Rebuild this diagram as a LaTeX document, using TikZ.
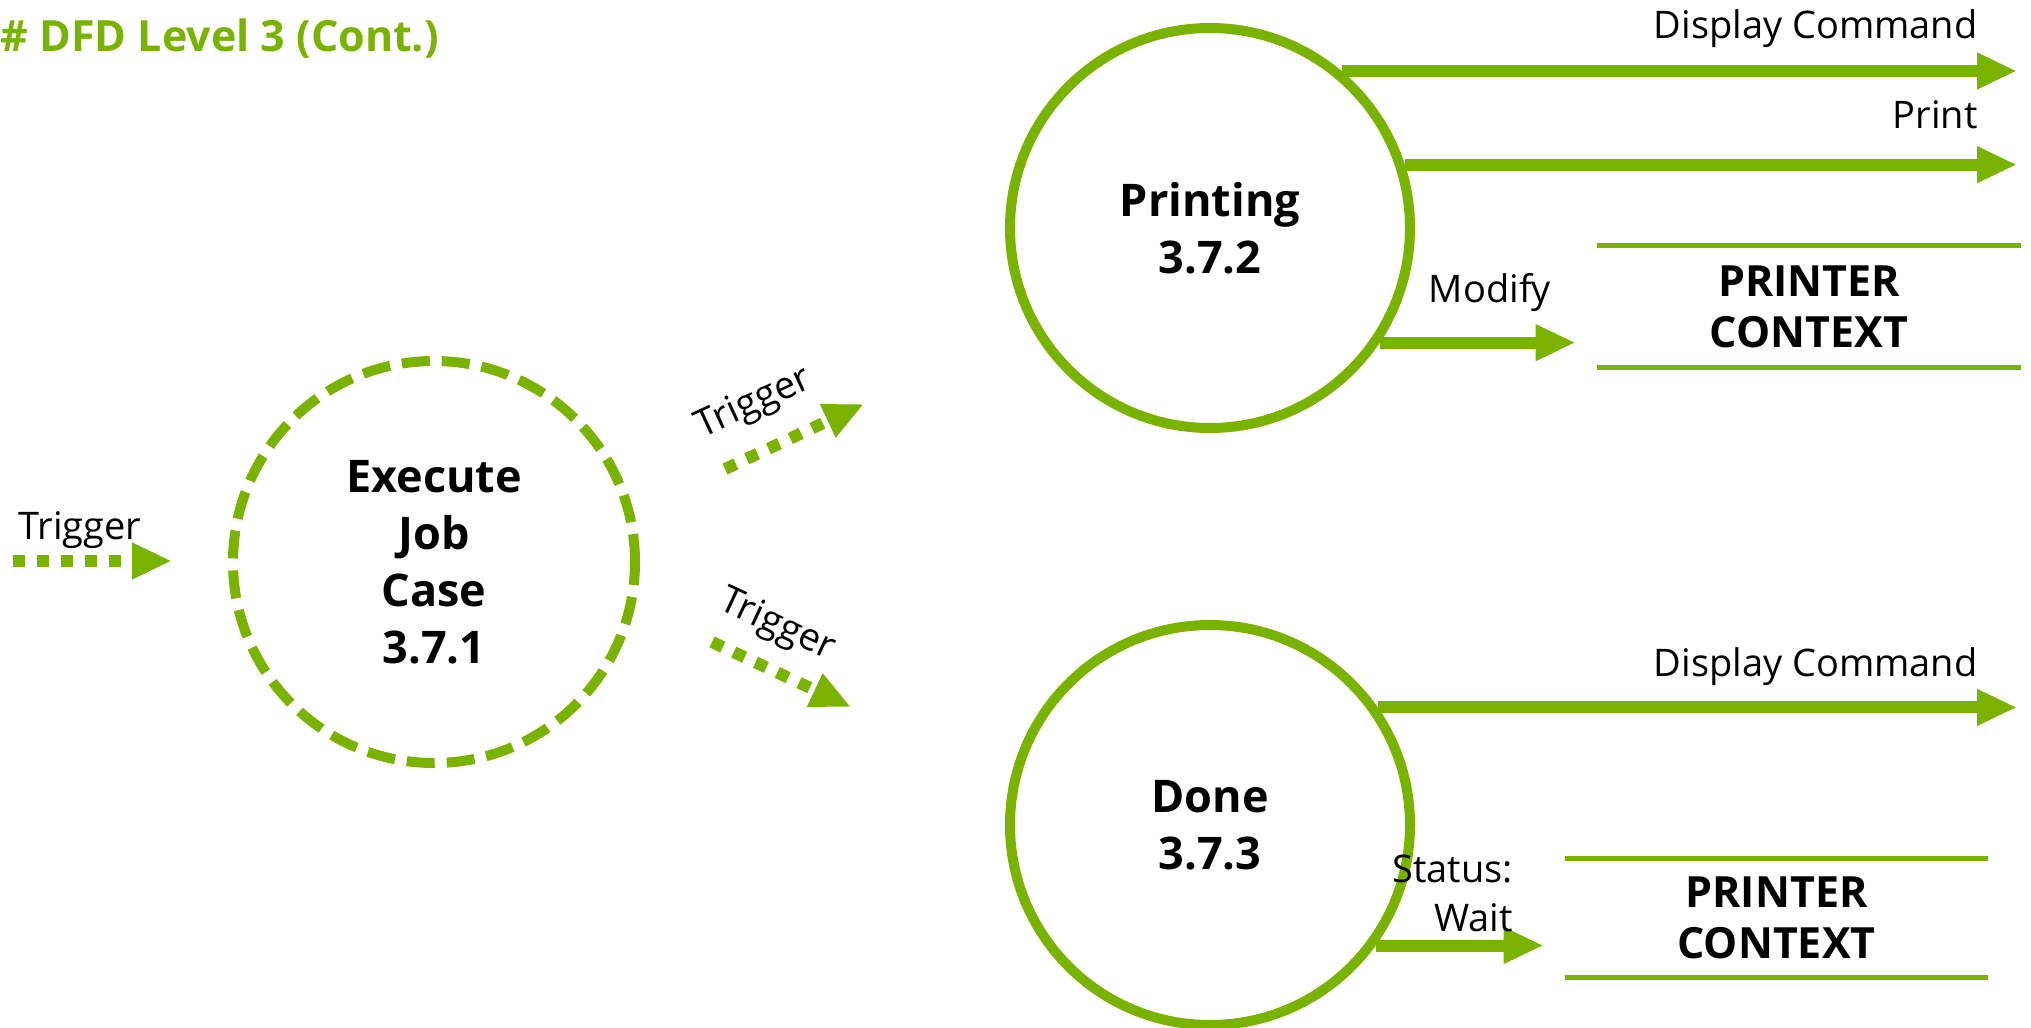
\documentclass[tikz,border=0pt]{standalone}
\usepackage{fontspec}
\setmainfont{Open Sans}
\usepackage{tikz}
\usetikzlibrary{positioning, arrows.meta}
\definecolor{dfdGreen}{RGB}{122, 178, 0}

\begin{document}
\begin{tikzpicture}[
        x=0.5pt, y=-0.5pt,
        font=\fontsize{19}{23}\selectfont,
        process/.style={
            circle, draw=dfdGreen, line width=5pt,
            minimum size=200pt, inner sep=0pt, align=center,
            font=\fontsize{22.5}{28.5}\selectfont\bfseries
        },
        procdash/.style={
            process, dash pattern=on 14pt off 6pt, minimum size=201pt
        },
        store/.style={
            rectangle, minimum width=212pt, minimum height=60pt,
            inner sep=0pt, align=center,
            font=\fontsize{21.5}{25.5}\selectfont\bfseries
        },
        storeline/.style={draw=dfdGreen, line width=2.5pt},
        flow/.style={draw=dfdGreen, line width=6pt, -{Triangle[length=20pt, width=17pt]}},
        trigger/.style={flow, dash pattern=on 6pt off 6pt},
        lbl/.style={inner sep=0pt, text=black}
    ]

    \useasboundingbox (0, 0) rectangle (2031, 1028);

    % TITLE
    \node[anchor=west, inner sep=0pt, text=dfdGreen, font=\fontsize{21.5}{26}\selectfont\bfseries] (title) at (0, 39) {\# DFD Level 3 (Cont.)};

    % PROCESSES
    \node[procdash] (p1) at (434, 562) {Execute\\Job\\Case\\3.7.1};
    \node[process] (p2) at (1210, 228) {Printing\\3.7.2};
    \node[process] (p3) at (1210, 825) {Done\\3.7.3};

    % DATA STORES
    \node[store, minimum height=60.5pt] (s1) at (1809, 306.5) {PRINTER\\CONTEXT};
    \node[store, minimum width=211.5pt, minimum height=59pt] (s2) at (1776.5, 918) {PRINTER\\CONTEXT};

    \draw[storeline] (s1.north west) -- (s1.north east);
    \draw[storeline] (s1.south west) -- (s1.south east);
    \draw[storeline] (s2.north west) -- (s2.north east);
    \draw[storeline] (s2.south west) -- (s2.south east);

    % FREE ENDS
    \coordinate (rim) at (2017, 0);
    \coordinate (in0) at (13, 561);
    \coordinate (in1) at (172, 561);
    \coordinate (up0) at (725, 469);
    \coordinate (up1) at (864, 404);
    \coordinate (dn0) at (712, 642);
    \coordinate (dn1) at (851, 707);

    % TRIGGERS
    \draw[trigger] (in0) -- (in1);
    \draw[trigger] (up0) -- (up1);
    \draw[trigger] (dn0) -- (dn1);

    \node[lbl, anchor=base] (t0) at (80, 539) {Trigger};
    \node[lbl, rotate=25] (t1) at (754, 404) {Trigger};
    \node[lbl, rotate=-25] (t2) at (777, 626) {Trigger};

    % FLOWS OUT OF PRINTING
    \draw[flow] (p2.50) -- (p2.50 -| rim);
    \draw[flow] (p2.18.6) -- (p2.18.6 -| rim);
    \draw[flow, shorten >=10.5pt] (p2.-34) -- (p2.-34 -| s1.west);

    % FLOWS OUT OF DONE
    \draw[flow] (p3.35.3) -- (p3.35.3 -| rim);
    \draw[flow, shorten >=10.5pt] (p3.-36.4) -- (p3.-36.4 -| s2.west);

    % FLOW LABELS
    \node[lbl, anchor=base east] (l1) at (1978, 39) {Display Command};
    \node[lbl, anchor=base east] (l2) at (1978, 128) {Print};
    \node[lbl, anchor=base] (l3) at (1490, 302) {Modify};
    \node[lbl, anchor=base east] (l4) at (1978, 676) {Display Command};
    \node[lbl, anchor=east, align=right, font=\fontsize{19}{24.5}\selectfont] (l5) at (1513, 893) {Status:\\Wait};

\end{tikzpicture}
\end{document}
